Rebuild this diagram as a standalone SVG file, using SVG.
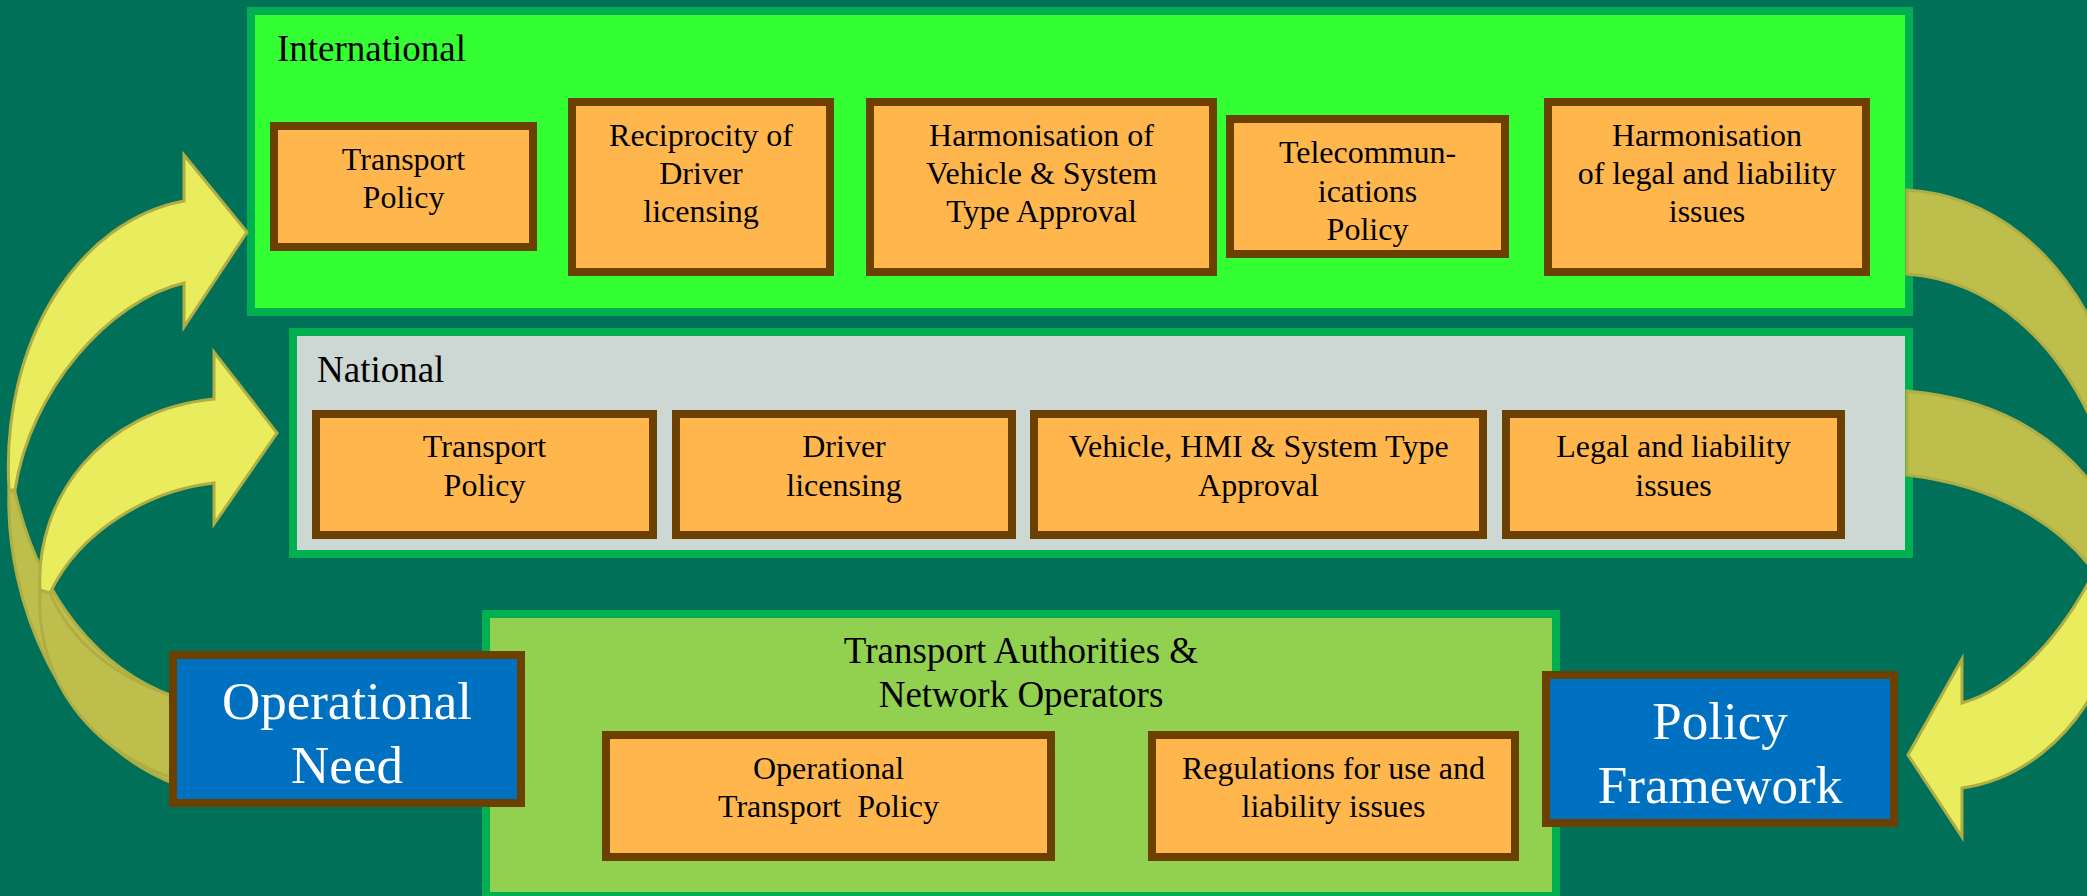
<svg xmlns="http://www.w3.org/2000/svg" width="2087" height="896" viewBox="0 0 2087 896">
<style>
.cont{stroke:#00b050;stroke-width:8}
.box{fill:#ffb74d;stroke:#6b4000;stroke-width:8}
.blue{fill:#0070c0;stroke:#6b4000;stroke-width:8}
.t{font-family:"Liberation Serif","Times New Roman",serif;fill:#000}
.bt{font-size:32px;text-anchor:middle}
.hd{font-size:37px}
.wt{font-family:"Liberation Serif","Times New Roman",serif;fill:#fff;font-size:53px;text-anchor:middle}
.lt{fill:#e9ec5d;stroke:#afae44;stroke-width:3;stroke-linejoin:miter}
.dk{fill:#bdbe4b;stroke:#afae44;stroke-width:3}
</style>
<rect x="0" y="0" width="2087" height="896" fill="#007058"/>

<g id="international">
<rect class="cont" x="251" y="11" width="1658" height="301" fill="#33ff33"/>
<text class="t hd" x="277" y="61">International</text>
</g>
<g id="national">
<rect class="cont" x="293" y="332" width="1616" height="222" fill="#cdd7d3"/>
<text class="t hd" x="317" y="382">National</text>
</g>
<g id="authorities">
<rect class="cont" x="486" y="614" width="1070" height="282" fill="#92d050"/>
<text class="t hd" x="1021" y="663" text-anchor="middle">Transport Authorities &amp;</text>
<text class="t hd" x="1021" y="707" text-anchor="middle">Network Operators</text>
</g>

<g id="int-transport-policy">
<rect class="box" x="274" y="126" width="259" height="121"/>
<text class="t bt" x="403.5" y="170">Transport</text>
<text class="t bt" x="403.5" y="208">Policy</text>
</g>
<g id="int-reciprocity">
<rect class="box" x="572" y="102" width="258" height="170"/>
<text class="t bt" x="701" y="146">Reciprocity of</text>
<text class="t bt" x="701" y="184">Driver</text>
<text class="t bt" x="701" y="222">licensing</text>
</g>
<g id="int-harmonisation-vehicle">
<rect class="box" x="870" y="102" width="343" height="170"/>
<text class="t bt" x="1041.5" y="146">Harmonisation of</text>
<text class="t bt" x="1041.5" y="184">Vehicle &amp; System</text>
<text class="t bt" x="1041.5" y="222">Type Approval</text>
</g>
<g id="int-telecom">
<rect class="box" x="1230" y="119" width="275" height="135"/>
<text class="t bt" x="1367.5" y="163">Telecommun-</text>
<text class="t bt" x="1367.5" y="202">ications</text>
<text class="t bt" x="1367.5" y="240">Policy</text>
</g>
<g id="int-harmonisation-legal">
<rect class="box" x="1548" y="102" width="318" height="170"/>
<text class="t bt" x="1707" y="146">Harmonisation</text>
<text class="t bt" x="1707" y="184">of legal and liability</text>
<text class="t bt" x="1707" y="222">issues</text>
</g>

<g id="nat-transport-policy">
<rect class="box" x="316" y="414" width="337" height="121"/>
<text class="t bt" x="484.5" y="457">Transport</text>
<text class="t bt" x="484.5" y="496">Policy</text>
</g>
<g id="nat-driver-licensing">
<rect class="box" x="676" y="414" width="336" height="121"/>
<text class="t bt" x="844" y="457">Driver</text>
<text class="t bt" x="844" y="496">licensing</text>
</g>
<g id="nat-vehicle">
<rect class="box" x="1034" y="414" width="449" height="121"/>
<text class="t bt" x="1258.5" y="457">Vehicle, HMI &amp; System Type</text>
<text class="t bt" x="1258.5" y="496">Approval</text>
</g>
<g id="nat-legal">
<rect class="box" x="1506" y="414" width="335" height="121"/>
<text class="t bt" x="1673.5" y="457">Legal and liability</text>
<text class="t bt" x="1673.5" y="496">issues</text>
</g>

<g id="op-transport-policy">
<rect class="box" x="606" y="735" width="445" height="122"/>
<text class="t bt" x="828.5" y="779">Operational</text>
<text class="t bt" x="828.5" y="817" xml:space="preserve">Transport  Policy</text>
</g>
<g id="regulations">
<rect class="box" x="1152" y="735" width="363" height="122"/>
<text class="t bt" x="1333.5" y="779">Regulations for use and</text>
<text class="t bt" x="1333.5" y="817">liability issues</text>
</g>

<g id="connectors">
<path class="dk" d="M9,490 C5,600 60,740 175,784 L175,697 C100,670 40,600 15,492 Z"/>
<path class="dk" d="M40,590 C35,680 90,750 175,779 L175,697 C110,675 70,640 50,593 Z"/>
<path class="lt" d="M184,201 L184,155 L247,232 L184,327 L184,283 C110,300 30,390 15,490 L9,490 C0,340 80,220 184,201 Z"/>
<path class="lt" d="M214,399 L214,352 L277,433 L214,524 L214,483 C150,490 80,530 50,593 L40,590 C35,500 100,410 214,399 Z"/>
<path class="dk" d="M1907,190 C1990,195 2060,250 2100,340 L2100,440 C2060,340 1990,280 1907,274 Z"/>
<path class="dk" d="M1907,391 C1990,398 2055,430 2100,495 L2100,580 C2060,520 1990,485 1907,475 Z"/>
<path class="lt" d="M1962,703 L1962,659 L1908,755 L1962,837 L1962,788 C2020,780 2070,740 2100,680 L2120,680 L2120,570 L2095,570 C2060,640 2010,690 1962,703 Z"/>
</g>

<g id="operational-need">
<rect class="blue" x="173" y="655" width="348" height="148"/>
<text class="wt" x="347" y="719">Operational</text>
<text class="wt" x="347" y="783">Need</text>
</g>
<g id="policy-framework">
<rect class="blue" x="1546" y="675" width="348" height="148"/>
<text class="wt" x="1720" y="739">Policy</text>
<text class="wt" x="1720" y="803">Framework</text>
</g>
</svg>
